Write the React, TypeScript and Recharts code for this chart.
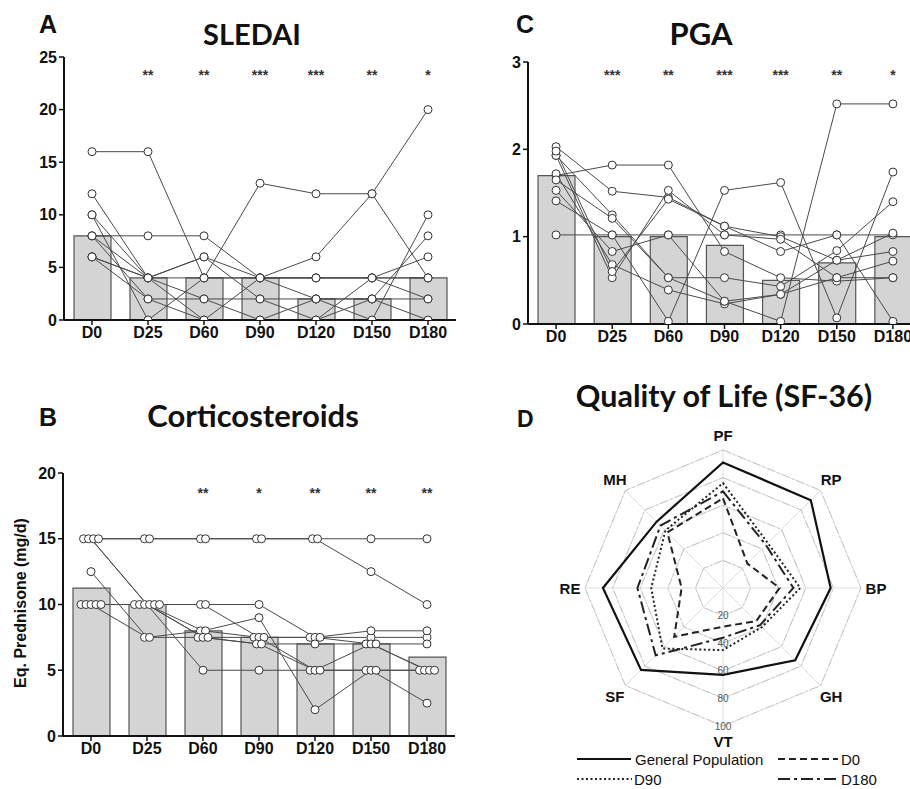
import React from 'react';
import {
  ComposedChart, Bar, Line, XAxis, YAxis, LabelList,
  RadarChart, Radar, PolarGrid, PolarAngleAxis, PolarRadiusAxis,
} from 'recharts';

const categories = ['D0', 'D25', 'D60', 'D90', 'D120', 'D150', 'D180'];

// ---------- Panel A: SLEDAI ----------
const sledaiMedian = [8, 4, 4, 4, 2, 2, 4];
const sledaiStars = ['', '**', '**', '***', '***', '**', '*'];
const sledaiP1 = [16, 16, 4, 4, 4, 4, 4];
const sledaiP2 = [12, 4, 4, 4, 2, 2, 2];
const sledaiP3 = [10, 4, 2, 2, 2, 0, 10];
const sledaiP4 = [10, 0, 4, 13, 12, 12, 4];
const sledaiP5 = [8, 8, 8, 4, 6, 12, 20];
const sledaiP6 = [8, 2, 2, 0, 0, 2, 8];
const sledaiP7 = [8, 4, 6, 4, 4, 4, 6];
const sledaiP8 = [6, 2, 0, 0, 2, 2, 0];
const sledaiP9 = [6, 4, 0, 4, 4, 4, 2];
const sledaiP10 = [6, 4, 6, 2, 0, 4, 4];
const sledaiPatients = [sledaiP1, sledaiP2, sledaiP3, sledaiP4, sledaiP5, sledaiP6, sledaiP7, sledaiP8, sledaiP9, sledaiP10];
const sledaiTicks = [0, 5, 10, 15, 20, 25];

// ---------- Panel C: PGA ----------
const pgaMedian = [1.7, 1.0, 1.0, 0.9, 0.5, 0.7, 1.0];
const pgaStars = ['', '***', '**', '***', '***', '**', '*'];
const pgaP1 = [1.02, 1.02, 1.02, 1.02, 1.02, 1.02, 1.02];
const pgaP2 = [1.7, 1.82, 1.82, 0.83, 0.53, 0.49, 0.53];
const pgaP3 = [2.03, 1.52, 1.45, 1.12, 1.0, 0.73, 0.83];
const pgaP4 = [1.93, 1.25, 0.53, 0.53, 0.43, 0.84, 1.4];
const pgaP5 = [1.93, 0.53, 1.53, 1.02, 0.97, 0.53, 0.72];
const pgaP6 = [1.72, 0.68, 0.39, 0.23, 0.34, 0.73, 1.04];
const pgaP7 = [1.53, 0.83, 1.02, 0.26, 0.34, 0.53, 0.53];
const pgaP8 = [1.41, 1.02, 0.03, 1.53, 1.62, 0.07, 1.74];
const pgaP9 = [1.65, 1.21, 0.53, 0.26, 0.03, 2.52, 2.52];
const pgaP10 = [1.98, 0.6, 1.43, 1.12, 0.83, 1.02, 0.03];
const pgaPatients = [pgaP1, pgaP2, pgaP3, pgaP4, pgaP5, pgaP6, pgaP7, pgaP8, pgaP9, pgaP10];
const pgaTicks = [0, 1, 2, 3];

// ---------- Panel B: Corticosteroids ----------
const corMedian = [11.25, 10, 8, 7.5, 7, 7, 6];
const corStars = ['', '', '**', '*', '**', '**', '**'];
const corP1 = [15, 15, 15, 15, 15, 15, 15];
const corP2 = [15, 15, 15, 15, 15, 12.5, 10];
const corP3 = [15, 10, 8, 7.5, 7.5, 7.5, 7.5];
const corP4 = [15, 10, 5, 5, 5, 5, 5];
const corP5 = [12.5, 7.5, 7.5, 7.5, 7.5, 8, 8];
const corP6 = [10, 10, 10, 10, 7.5, 7, 5];
const corP7 = [10, 10, 10, 7.5, 5, 5, 5];
const corP8 = [10, 7.5, 8, 9, 2, 5, 2.5];
const corP9 = [10, 10, 7.5, 7, 7, 7, 7];
const corP10 = [10, 10, 7.5, 7, 5, 7, 5];
const corPatients = [corP1, corP2, corP3, corP4, corP5, corP6, corP7, corP8, corP9, corP10];
const corTicks = [0, 5, 10, 15, 20];

// ---------- Panel D: SF-36 radar ----------
const sfDomains = ['PF', 'RP', 'BP', 'GH', 'VT', 'SF', 'RE', 'MH'];
const sfGeneral = [91, 90, 78, 74, 63, 84, 87, 68];
const sfD0 = [65, 25, 41, 34, 28, 50, 30, 57];
const sfD90 = [76, 46, 56, 40, 45, 62, 52, 59];
const sfD180 = [70, 44, 51, 38, 36, 69, 62, 64];
const sfTicks = [20, 40, 60, 80, 100];

const FONT = "'Liberation Sans', Arial, sans-serif";
const TITLE_FONT = "Lato, 'Open Sans', sans-serif";

function buildRows(median: number[], stars: string[], starLevel: number, patients: number[][]) {
  return categories.map((cat, i) => {
    const row: any = { cat, median: median[i], sig: stars[i], starY: stars[i] ? starLevel : null };
    patients.forEach((p, k) => { row['p' + k] = p[i]; });
    return row;
  });
}

// side-by-side dodge for tied values (computed from the data)
function dodgeRank(patients: number[][], k: number, i: number) {
  const v = patients[k][i];
  const tied: number[] = [];
  patients.forEach((p, j) => { if (p[i] === v) tied.push(j); });
  const rank = tied.indexOf(k);
  return rank - (tied.length - 1) / 2;
}

const StarLabel = (props: any) => {
  const { x, y, value } = props;
  if (!value || x == null || y == null) return null;
  return (
    <text x={x} y={y + 8} textAnchor="middle" fontSize={14} fontWeight={700} fill="#333" fontFamily={FONT}>
      {value}
    </text>
  );
};

const axisTick = { fill: '#111', fontSize: 16, fontWeight: 700, fontFamily: FONT };

function Panel(props: {
  rows: any[]; patients: number[][]; yMax: number; ticks: number[]; left: number; top: number;
  width: number; height: number; marginTop: number; yWidth: number; dodge?: number;
}) {
  const { rows, patients, yMax, ticks, left, top, width, height, marginTop, yWidth, dodge } = props;
  const lines = patients.map((_, k) => {
    const dot = dodge
      ? (p: any) => {
          if (p.cx == null || p.cy == null) return <g key={'d' + k + '-' + p.index} />;
          const off = dodgeRank(patients, k, p.index) * dodge;
          return <circle key={'d' + k + '-' + p.index} cx={p.cx + off} cy={p.cy} r={4} fill="#fff" stroke="#333" strokeWidth={1} />;
        }
      : { r: 4, fill: '#fff', stroke: '#333', strokeWidth: 1 };
    return (
      <Line
        key={k}
        dataKey={'p' + k}
        type="linear"
        stroke="#4a4a4a"
        strokeWidth={1}
        dot={dot as any}
        activeDot={false}
        isAnimationActive={false}
      />
    );
  });
  return (
    <div style={{ position: 'absolute', left, top }}>
      <ComposedChart width={width} height={height} data={rows} margin={{ top: marginTop, right: 4, bottom: 10, left: 0 }}>
        <XAxis
          dataKey="cat"
          height={30}
          interval={0}
          tick={axisTick}
          tickSize={5}
          axisLine={{ stroke: '#111', strokeWidth: 2 }}
          tickLine={{ stroke: '#111', strokeWidth: 1.5 }}
        />
        <YAxis
          type="number"
          domain={[0, yMax]}
          ticks={ticks}
          width={yWidth}
          tick={axisTick}
          tickSize={5}
          axisLine={{ stroke: '#111', strokeWidth: 2 }}
          tickLine={{ stroke: '#111', strokeWidth: 1.5 }}
          allowDataOverflow
        />
        <Bar dataKey="median" fill="#d4d4d4" stroke="#555" strokeWidth={1.2} barSize={37} isAnimationActive={false} />
        {lines}
        <Line dataKey="starY" stroke="none" dot={false} activeDot={false} isAnimationActive={false}>
          <LabelList dataKey="sig" content={StarLabel} />
        </Line>
      </ComposedChart>
    </div>
  );
}

const RCX = 268;
const RCY = 218;

const AngleTick = (props: any) => {
  const { x, y, payload } = props;
  const dx = x - RCX;
  const dy = y - RCY;
  const d = Math.hypot(dx, dy) || 1;
  const r = 153;
  return (
    <text x={RCX + (dx / d) * r} y={RCY + (dy / d) * r} textAnchor="middle" dominantBaseline="central"
      fontSize={15} fontWeight={700} fill="#111" fontFamily={FONT}>
      {payload.value}
    </text>
  );
};

const RadiusTick = (props: any) => {
  const { x, y, payload } = props;
  return (
    <text x={x} y={y} textAnchor="middle" dominantBaseline="central" fontSize={10} fill="#555" fontFamily={FONT}>
      {payload.value}
    </text>
  );
};

export default function App() {
  const sledaiRows = buildRows(sledaiMedian, sledaiStars, 23.6, sledaiPatients);
  const pgaRows = buildRows(pgaMedian, pgaStars, 2.89, pgaPatients);
  const corRows = buildRows(corMedian, corStars, 18.7, corPatients);
  const radarRows = sfDomains.map((d, i) => ({
    domain: d, gp: sfGeneral[i], d0: sfD0[i], d90: sfD90[i], d180: sfD180[i],
  }));

  return (
    <div style={{ position: 'absolute', left: 0, top: 0, width: 910, height: 789, overflow: 'hidden', background: '#fff' }}>
      <Panel rows={sledaiRows} patients={sledaiPatients} yMax={25} ticks={sledaiTicks} left={0} top={0}
        width={460} height={360} marginTop={57} yWidth={64} />
      <Panel rows={pgaRows} patients={pgaPatients} yMax={3} ticks={pgaTicks} left={455} top={0}
        width={470} height={364} marginTop={62} yWidth={73} />
      <Panel rows={corRows} patients={corPatients} yMax={20} ticks={corTicks} left={0} top={370}
        width={459} height={406} marginTop={103} yWidth={63} dodge={5} />

      <div style={{ position: 'absolute', left: 455, top: 370 }}>
        <RadarChart width={455} height={419} data={radarRows} cx={RCX} cy={RCY} outerRadius={138}>
          <PolarGrid stroke="#dedede" strokeWidth={1} />
          <PolarGrid stroke="#c4c4c4" radialLines={false} strokeDasharray="8 3 2 3" strokeWidth={1} />
          <PolarAngleAxis dataKey="domain" tick={AngleTick} axisLine={false} tickLine={false} />
          <PolarRadiusAxis angle={-90} domain={[0, 100]} ticks={sfTicks} axisLine={false} tick={RadiusTick} tickLine={false} />
          <Radar dataKey="d0" stroke="#222" strokeWidth={2} strokeDasharray="7 4" fill="none" fillOpacity={0} dot={false} isAnimationActive={false} />
          <Radar dataKey="d90" stroke="#222" strokeWidth={2} strokeDasharray="2 2.5" fill="none" fillOpacity={0} dot={false} isAnimationActive={false} />
          <Radar dataKey="d180" stroke="#222" strokeWidth={2} strokeDasharray="12 4 3 4" fill="none" fillOpacity={0} dot={false} isAnimationActive={false} />
          <Radar dataKey="gp" stroke="#111" strokeWidth={2.2} fill="none" fillOpacity={0} dot={false} isAnimationActive={false} />
        </RadarChart>
      </div>

      <svg width={910} height={789} style={{ position: 'absolute', left: 0, top: 0, pointerEvents: 'none' }}>
        <text x={39} y={33} fontSize={25} fontWeight={700} fontFamily={FONT} fill="#111">A</text>
        <text x={252} y={45} fontSize={29} fontWeight={700} fontFamily={TITLE_FONT} fill="#111" textAnchor="middle">SLEDAI</text>
        <text x={516} y={33} fontSize={25} fontWeight={700} fontFamily={FONT} fill="#111">C</text>
        <text x={701} y={45} fontSize={31} fontWeight={700} fontFamily={TITLE_FONT} fill="#111" textAnchor="middle">PGA</text>
        <text x={39} y={426} fontSize={25} fontWeight={700} fontFamily={FONT} fill="#111">B</text>
        <text x={253} y={427} fontSize={31} fontWeight={700} fontFamily={TITLE_FONT} fill="#111" textAnchor="middle">Corticosteroids</text>
        <text x={517} y={427} fontSize={23} fontWeight={700} fontFamily={FONT} fill="#111">D</text>
        <text x={724} y={407} fontSize={30.5} fontWeight={700} fontFamily={TITLE_FONT} fill="#111" textAnchor="middle">Quality of Life (SF-36)</text>
        <text transform="translate(26,603) rotate(-90)" fontSize={16} fontWeight={700} fontFamily={FONT} fill="#111" textAnchor="middle">Eq. Prednisone (mg/d)</text>

        <line x1={577} y1={759} x2={631} y2={759} stroke="#111" strokeWidth={2} />
        <text x={635} y={765} fontSize={15} fontFamily={FONT} fill="#111">General Population</text>
        <line x1={778} y1={759} x2={838} y2={759} stroke="#222" strokeWidth={2} strokeDasharray="7 4" />
        <text x={841} y={765} fontSize={15} fontFamily={FONT} fill="#111">D0</text>
        <line x1={577} y1={779} x2={632} y2={779} stroke="#222" strokeWidth={2} strokeDasharray="2 2.5" />
        <text x={634} y={785} fontSize={15} fontFamily={FONT} fill="#111">D90</text>
        <line x1={778} y1={779} x2={838} y2={779} stroke="#222" strokeWidth={2} strokeDasharray="12 4 3 4" />
        <text x={841} y={785} fontSize={15} fontFamily={FONT} fill="#111">D180</text>
      </svg>
    </div>
  );
}
